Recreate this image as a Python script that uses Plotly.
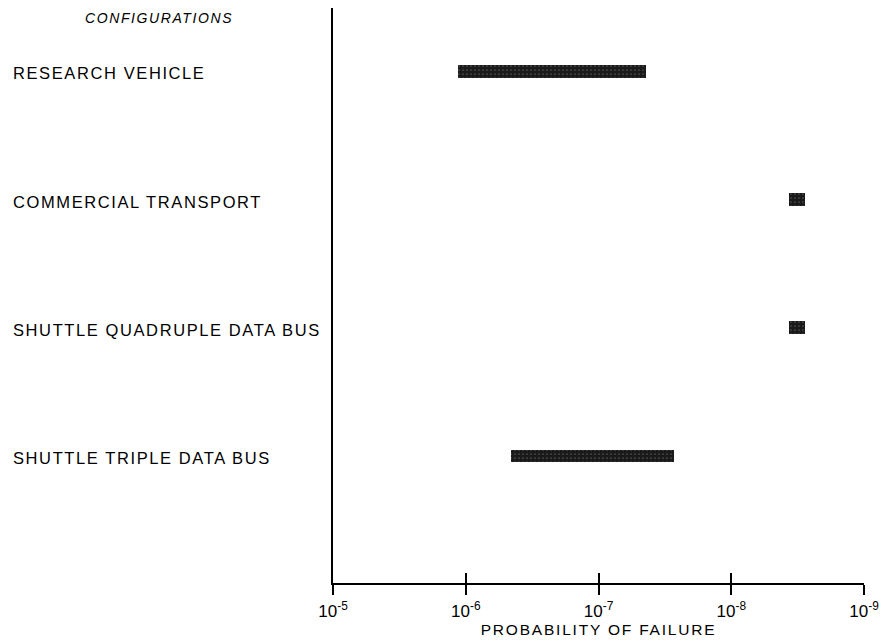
import plotly.graph_objects as go

# ---- data ----
categories = ["RESEARCH VEHICLE", "COMMERCIAL TRANSPORT",
              "SHUTTLE QUADRUPLE DATA BUS", "SHUTTLE TRIPLE DATA BUS"]
p_high = [1.15e-6, 3.7e-9, 3.7e-9, 4.6e-7]   # left end (higher probability)
p_low = [4.4e-8, 2.8e-9, 2.8e-9, 2.7e-8]     # right end (lower probability)
tick_vals = [1e-5, 1e-6, 1e-7, 1e-8, 1e-9]
tick_exps = ["-5", "-6", "-7", "-8", "-9"]
x_title = "PROBABILITY OF FAILURE"
y_title = "CONFIGURATIONS"

FONT = "Liberation Sans, Arial, Helvetica, sans-serif"
INK = "#000"

tick_text = ["10<sup>" + e + "</sup>" for e in tick_exps]

fig = go.Figure()
fig.add_trace(go.Bar(
    y=list(range(len(categories))),
    x=[h - l for h, l in zip(p_high, p_low)],
    base=p_low,
    orientation="h",
    width=0.1,
    marker=dict(color="#1a1a1a", line=dict(width=0),
                pattern=dict(shape=".", fgcolor="#8a8a8a", size=4, solidity=0.15)),
    showlegend=False, hoverinfo="skip",
))
# dummy trace to materialise the overlay axis used for inner tick halves
fig.add_trace(go.Scatter(x=[], y=[], xaxis="x2", showlegend=False))

annotations = []
for i, name in enumerate(categories):
    annotations.append(dict(
        text=name, x=-0.606, xref="paper", y=i, yref="y",
        xanchor="left", yanchor="middle", align="left", showarrow=False,
        yshift=-2, font=dict(family=FONT, size=16.5, color=INK)))
annotations.append(dict(
    text="<i>" + y_title + "</i>", x=-0.471, xref="paper", y=0.9826, yref="paper",
    xanchor="left", yanchor="middle", align="left", showarrow=False,
    font=dict(family=FONT, size=14, color=INK)))

fig.update_layout(
    width=887, height=643,
    margin=dict(l=333, r=21, t=8, b=60),
    paper_bgcolor="white", plot_bgcolor="white",
    font=dict(family=FONT, color=INK),
    bargap=0,
    annotations=annotations,
    xaxis=dict(
        type="log", range=[-5, -9], showgrid=False, zeroline=False,
        showline=True, linecolor=INK, linewidth=2,
        tickmode="array", tickvals=tick_vals, ticktext=tick_text,
        ticks="outside", ticklen=10, tickwidth=2, tickcolor=INK,
        ticklabelstandoff=2,
        tickfont=dict(family=FONT, size=17, color=INK),
        title=dict(text=x_title, font=dict(family=FONT, size=15.5, color=INK),
                   standoff=0),
    ),
    xaxis2=dict(
        type="log", range=[-5, -9], overlaying="x", anchor="y", side="bottom",
        showgrid=False, zeroline=False, showline=False,
        tickmode="array", tickvals=tick_vals, showticklabels=False,
        ticks="inside", ticklen=10, tickwidth=2, tickcolor=INK,
    ),
    yaxis=dict(
        range=[3.99, -0.495], showgrid=False, zeroline=False,
        showline=True, linecolor=INK, linewidth=2,
        showticklabels=False, ticks="",
    ),
)

post = """
var gd = document.getElementById('{plot_id}');
gd.querySelectorAll('.annotation-text').forEach(function(t){
  t.style.letterSpacing = '1.6px';
});
gd.querySelectorAll('.xtitle').forEach(function(t){
  t.style.letterSpacing = '1.8px';
});
"""
fig.write_html("out.html", post_script=post)
